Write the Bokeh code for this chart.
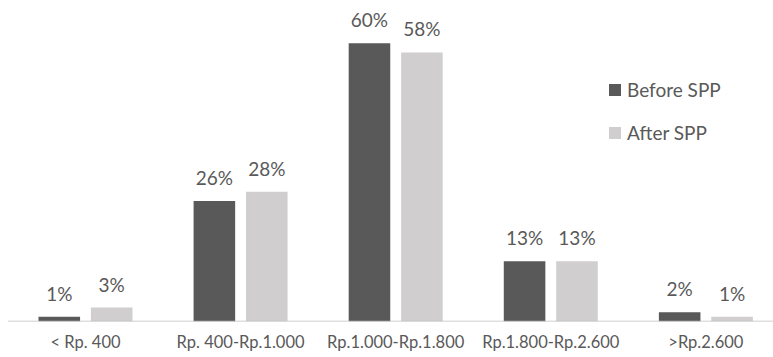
from bokeh.plotting import figure
from bokeh.models import (ColumnDataSource, LabelSet, Legend, LegendItem,
                          Range1d, FixedTicker)
from bokeh.core.properties import value
from bokeh.transform import dodge
from bokeh.embed import file_html
from bokeh.resources import INLINE

# Monthly income bands and share of households in each band (%)
categories = ["< Rp. 400", "Rp. 400-Rp.1.000", "Rp.1.000-Rp.1.800",
              "Rp.1.800-Rp.2.600", ">Rp.2.600"]
before_spp = [1, 26, 60, 13, 2]
after_spp = [3, 28, 58, 13, 1]
series_names = ["Before SPP", "After SPP"]

DARK = "#595959"
LIGHT = "#d0cece"
TEXT = "#595959"
FONT = "Lato"

idx = list(range(len(categories)))
src = ColumnDataSource(dict(
    x=idx,
    before=before_spp,
    after=after_spp,
    before_lbl=[f"{v}%" for v in before_spp],
    after_lbl=[f"{v}%" for v in after_spp],
))

px_per_unit = 278.3 / 60.0
frame_h = 321
p = figure(
    frame_width=773, frame_height=frame_h,
    x_range=Range1d(-0.548, 4.436),
    y_range=Range1d(0, frame_h / px_per_unit),
    output_backend="svg", toolbar_location=None,
    min_border=0, min_border_left=0, min_border_right=0,
    min_border_top=0, min_border_bottom=0,
)
p.outline_line_color = None
p.xgrid.visible = False
p.ygrid.visible = False
p.yaxis.visible = False
p.background_fill_color = "white"
p.border_fill_color = "white"

bw = 0.268
off = 0.169
r_before = p.vbar(x=dodge("x", -off, range=p.x_range), top="before", width=bw,
                  bottom=0, source=src, fill_color=DARK, line_color=None)
r_after = p.vbar(x=dodge("x", off, range=p.x_range), top="after", width=bw,
                 bottom=0, source=src, fill_color=LIGHT, line_color=None)

# baseline under the bar groups
p.segment(x0=[-0.5], y0=[0], x1=[4.5], y1=[0], line_color="#bfbfbf",
          line_width=1.5)

for col, lbl, d in (("before", "before_lbl", -off), ("after", "after_lbl", off)):
    p.add_layout(LabelSet(
        x=dodge("x", d, range=p.x_range), y=col, text=lbl, source=src,
        text_align="center", text_baseline="alphabetic", y_offset=16,
        text_font=value(FONT), text_font_size=value("19px"),
        text_color=value(TEXT),
    ))

ax = p.xaxis[0]
ax.ticker = FixedTicker(ticks=idx)
ax.major_label_overrides = {i: c for i, c in enumerate(categories)}
ax.axis_line_color = None
ax.major_tick_line_color = None
ax.minor_tick_line_color = None
ax.major_tick_out = 0
ax.major_tick_in = 0
ax.major_label_standoff = 10
ax.major_label_text_font = FONT
ax.major_label_text_font_size = "16.5px"
ax.major_label_text_color = TEXT

legend = Legend(
    items=[LegendItem(label=series_names[0], renderers=[r_before]),
           LegendItem(label=series_names[1], renderers=[r_after])],
    location=(607, 177),
    glyph_width=15, glyph_height=15, label_standoff=5,
    label_text_font=FONT, label_text_font_size="19px",
    label_text_color=TEXT, spacing=20, padding=0, margin=0,
    border_line_color=None, background_fill_alpha=0,
)
p.add_layout(legend, "center")

open("out.html", "w").write(file_html(p, INLINE))
